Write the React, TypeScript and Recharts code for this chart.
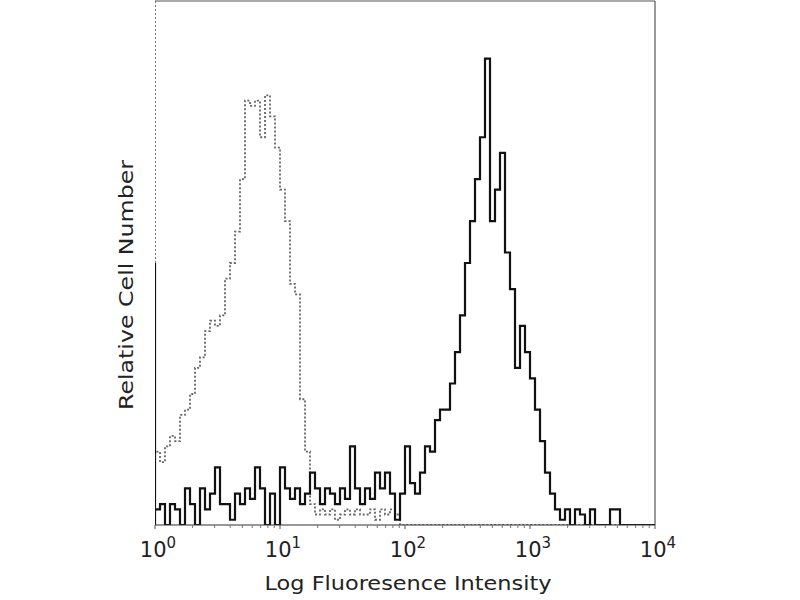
import React from "react";
import { LineChart, Line, XAxis, YAxis, ReferenceLine } from "recharts";

// Histogram bins: 100 bins of equal width on a log10 axis (0..4 decades)
const BIN_WIDTH = 0.04;
const DECADE_TICKS = [0, 1, 2, 3, 4];
const MINOR_MULTIPLIERS = [2, 3, 4, 5, 6, 7, 8, 9];
const X_TITLE = "Log Fluoresence Intensity";
const Y_TITLE = "Relative Cell Number";

// Stained sample (solid black), relative counts per bin
const positiveCounts = [
  3, 4, 0, 4, 3, 0, 7, 4, 0, 7,
  3, 6, 11, 4, 4, 1, 6, 4, 7, 5,
  11, 7, 0, 6, 0, 11, 7, 5, 7, 4,
  6, 10, 7, 4, 7, 6, 4, 7, 5, 15,
  7, 4, 7, 5, 10, 7, 10, 6, 1, 6,
  15, 8, 6, 10, 15, 14, 20, 22, 22, 27,
  33, 40, 50, 58, 66, 74, 89, 58, 64, 71,
  52, 45, 30, 38, 33, 28, 22, 16, 10, 6,
  3, 1, 3, 0, 3, 2, 0, 3, 0, 0,
  0, 3, 3, 0, 0, 0, 0, 0, 0, 0,
];
const positiveEdge = 50;

// Isotype control (dashed gray), relative counts per bin
const controlCounts = [
  14, 12, 15, 17, 16, 21, 22, 25, 30, 32,
  37, 39, 38, 40, 47, 50, 56, 66, 81, 80,
  81, 74, 82, 78, 72, 64, 58, 46, 44, 24,
  14, 4, 2, 3, 2, 3, 1, 2, 3, 2,
  3, 2, 2, 3, 1, 3, 2, 3, 2, 0,
  0, 0, 0, 0, 0, 0, 0, 0, 0, 0,
  0, 0, 0, 0, 0, 0, 0, 0, 0, 0,
  0, 0, 0, 0, 0, 0, 0, 0, 0, 0,
  0, 0, 0, 0, 0, 0, 0, 0, 0, 0,
  0, 0, 0, 0, 0, 0, 0, 0, 0, 0,
];
const controlEdge = 100;

const toBins = (counts: number[]) =>
  counts.map((v, i) => ({ x: i * BIN_WIDTH, v }));

const positiveData = [
  { x: 0, v: 0 },
  { x: 0, v: positiveEdge },
  ...toBins(positiveCounts),
  { x: 4, v: 0 },
];
const controlData = [
  { x: 0, v: controlEdge },
  ...toBins(controlCounts),
  { x: 4, v: 0 },
];

const minorTicks: number[] = [];
for (let d = 0; d < 4; d++) {
  for (const m of MINOR_MULTIPLIERS) minorTicks.push(d + Math.log10(m));
}
const allTicks = [...DECADE_TICKS, ...minorTicks].sort((a, b) => a - b);

const FONT = "'DejaVu Sans', 'Open Sans', sans-serif";

const Tick = (props: any) => {
  const { x, y, payload } = props;
  const val = payload.value as number;
  const isMajor = Math.abs(val - Math.round(val)) < 1e-9;
  if (!isMajor) {
    return <line x1={x} x2={x} y1={y} y2={y + 3} stroke="#777" strokeWidth={1} />;
  }
  return (
    <g>
      <line x1={x} x2={x} y1={y} y2={y + 4} stroke="#555" strokeWidth={1} />
      <text x={x + 3} y={y + 32} textAnchor="middle" fontFamily={FONT} fontSize={21} fill="#222">
        <tspan>10</tspan>
        <tspan dy={-9} fontSize={15}>{String(Math.round(val))}</tspan>
      </text>
    </g>
  );
};

const Titles = () => (
  <g>
    <text
      x={408}
      y={590}
      textAnchor="middle"
      fontFamily={FONT}
      fontSize={20}
      fill="#222"
      textLength={287}
      lengthAdjust="spacingAndGlyphs"
    >
      {X_TITLE}
    </text>
    <text
      x={133}
      y={285}
      textAnchor="middle"
      fontFamily={FONT}
      fontSize={20}
      fill="#222"
      textLength={250}
      lengthAdjust="spacingAndGlyphs"
      transform="rotate(-90 133 285)"
    >
      {Y_TITLE}
    </text>
  </g>
);

export default function App() {
  return (
    <div style={{ position: "absolute", left: 0, top: 0, width: 800, height: 600, background: "#fff" }}>
      <LineChart width={800} height={600} margin={{ top: 1, right: 145, bottom: 0, left: 155 }}>
        <XAxis
          dataKey="x"
          type="number"
          domain={[0, 4]}
          ticks={allTicks}
          interval={0}
          tick={<Tick />}
          tickLine={false}
          tickSize={0}
          tickMargin={0}
          height={75}
          axisLine={{ stroke: "#333", strokeWidth: 1.2 }}
          allowDataOverflow
          label={() => <Titles />}
        />
        <YAxis
          type="number"
          domain={[0, 100]}
          allowDataOverflow
          width={0}
          tick={false}
          tickLine={false}
          axisLine={false}
        />
        <ReferenceLine y={100} stroke="#555" strokeWidth={1.2} />
        <ReferenceLine x={4} stroke="#555" strokeWidth={1.2} />
        <Line
          data={controlData}
          dataKey="v"
          type="stepAfter"
          stroke="#666"
          strokeWidth={1.8}
          strokeDasharray="2 2"
          dot={false}
          isAnimationActive={false}
        />
        <Line
          data={positiveData}
          dataKey="v"
          type="stepAfter"
          stroke="#111"
          strokeWidth={2.2}
          dot={false}
          isAnimationActive={false}
        />
      </LineChart>
    </div>
  );
}
